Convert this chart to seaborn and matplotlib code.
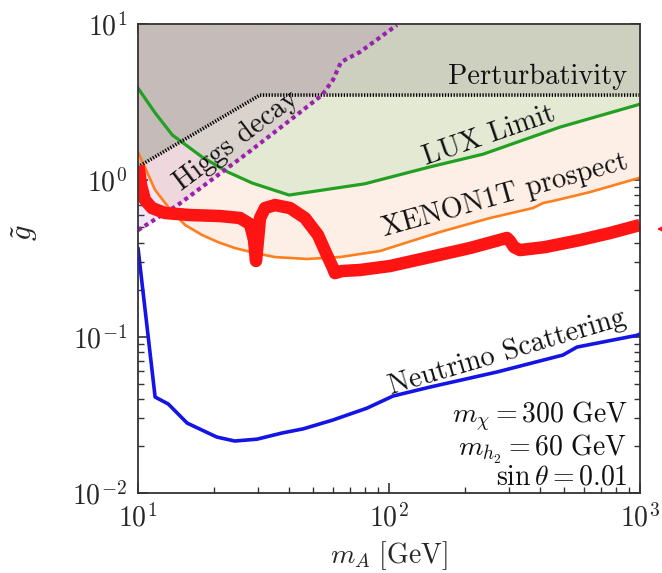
import numpy as np
import matplotlib
matplotlib.use("Agg")
import matplotlib.pyplot as plt
import seaborn as sns

# ---------------- data ----------------
lux_x = [10, 11.7, 13.7, 18.0, 22.8, 28.5, 40, 80, 146, 237, 480, 1000]
lux_y = [3.89, 2.70, 1.95, 1.41, 1.13, 0.961, 0.805, 0.95, 1.22, 1.47, 2.19, 3.07]

xenon_x = [10, 11.7, 13.2, 15.4, 18.0, 20.8, 24.3, 29.2, 35.1, 47.1, 63.8, 92.0,
           159.5, 252.5, 374.7, 411, 467, 632, 1000]
xenon_y = [1.52, 0.867, 0.675, 0.518, 0.447, 0.403, 0.369, 0.343, 0.323, 0.314, 0.323, 0.353,
           0.467, 0.574, 0.665, 0.716, 0.748, 0.841, 1.04]

pert_x = [10, 30.6, 1000]
pert_y = [1.22, 3.51, 3.51]

higgs_x = [10, 14.4, 27.4, 40.4, 54.1, 59.8, 64.4, 76.6, 107.6]
higgs_y = [0.48, 0.695, 1.50, 2.43, 3.51, 4.38, 5.71, 6.62, 9.85]

nu_x = [10, 11.7, 13.2, 15.7, 20.6, 24.3, 29.8, 37.5, 45.4, 59.8, 81.7, 103.7,
        145.6, 269, 493, 561, 973, 1000]
nu_y = [0.369, 0.0411, 0.0371, 0.0280, 0.0228, 0.0215, 0.0221, 0.0242, 0.0257, 0.0293,
        0.0349, 0.0417, 0.0476, 0.0594, 0.0763, 0.0858, 0.102, 0.104]

relic_x = [10.05, 10.28, 10.66, 11.37, 12.81, 16.11, 21.22, 25.49, 27.94, 28.99, 29.52,
           30.07, 30.63, 32.06, 35.14, 40.33, 46.28, 52.13, 56.1, 59.3, 60.9, 64.98,
           76.6, 100.9, 145.6, 210.2, 295.1, 303.4, 314.8, 332.6, 418.3, 576.8, 759, 1000]
relic_y = [1.24, 0.933, 0.748, 0.665, 0.618, 0.600, 0.591, 0.574, 0.525, 0.415, 0.305,
           0.415, 0.574, 0.665, 0.695, 0.665, 0.574, 0.447, 0.343, 0.283, 0.255, 0.263,
           0.267, 0.283, 0.323, 0.369, 0.428, 0.409, 0.374, 0.358, 0.374, 0.415, 0.460, 0.518]

x_ticks = [10, 100, 1000]
y_ticks = [0.01, 0.1, 1, 10]

param_lines = [r"$m_\chi = 300\ \mathrm{GeV}$",
               r"$m_{h_2} = 60\ \mathrm{GeV}$",
               r"$\sin\theta = 0.01$"]

# ---------------- style ----------------
sns.set_style("ticks")
plt.rcParams["font.family"] = ["cmr10", "DejaVu Serif"]
plt.rcParams["mathtext.fontset"] = "cm"
plt.rcParams["axes.formatter.use_mathtext"] = True
plt.rcParams["axes.unicode_minus"] = False

fig = plt.figure(figsize=(6.62, 5.73), dpi=100)
fig.patch.set_facecolor("white")
ax = fig.add_axes([138 / 662, 1 - 493 / 573, 502 / 662, 469 / 573])
ax.set_xscale("log")
ax.set_yscale("log")
ax.set_xlim(10, 1000)
ax.set_ylim(0.01, 10)

TOP = 10
# fills
ax.fill_between(xenon_x, xenon_y, TOP, color="#fdefe6", lw=0, zorder=1)
ax.fill_between(lux_x, lux_y, TOP, color="#e4e9d4", lw=0, zorder=2)
ax.fill_between(pert_x, pert_y, TOP, color="#cdd0bf", lw=0, zorder=3)
ax.fill_between(higgs_x, higgs_y, TOP, color=(0.55, 0.20, 0.62), alpha=0.12, lw=0, zorder=4)

# lines
sns.lineplot(x=lux_x, y=lux_y, ax=ax, color="#22a022", lw=2.3, zorder=6, sort=False)
sns.lineplot(x=xenon_x, y=xenon_y, ax=ax, color="#ff7f1e", lw=1.9, zorder=6, sort=False)
sns.lineplot(x=pert_x, y=pert_y, ax=ax, color="black", lw=2.6, zorder=6, sort=False,
             linestyle=(0, (0.35, 0.45)))
sns.lineplot(x=higgs_x, y=higgs_y, ax=ax, color="#9a22aa", lw=3.0, zorder=7, sort=False,
             linestyle=(0, (1.0, 0.9)))
sns.lineplot(x=nu_x, y=nu_y, ax=ax, color="#1414e6", lw=2.6, zorder=6, sort=False)
sns.lineplot(x=relic_x, y=relic_y, ax=ax, color="#ff1414", lw=9, zorder=8, sort=False,
             solid_joinstyle="round", solid_capstyle="butt")

# axes styling
for s in ax.spines.values():
    s.set_linewidth(1.3)
    s.set_color("#333333")
    s.set_zorder(10)
ax.tick_params(which="both", direction="in", top=True, right=True, color="#333333")
ax.tick_params(which="major", length=7, width=1.2, labelsize=20, pad=8)
ax.tick_params(which="minor", length=4, width=1.0)
ax.set_xticks(x_ticks)
ax.set_yticks(y_ticks)

ax.set_xlabel(r"$m_A\ [\mathrm{GeV}]$", fontsize=20)
ax.xaxis.set_label_coords(0.5, -0.098)
ax.set_ylabel(r"$\tilde{g}$", fontsize=22)
ax.yaxis.set_label_coords(-0.195, 0.556)

# annotations
tkw = dict(transform=ax.transAxes, zorder=12, color="#111111")
FS = 20.5
ax.text(0.975, 0.888, "Perturbativity", fontsize=FS, ha="right", va="center", **tkw)
ax.text(0.70, 0.762, "LUX Limit", fontsize=FS, ha="center", va="center", rotation=19, **tkw)
ax.text(0.731, 0.635, "XENON1T prospect", fontsize=FS, ha="center", va="center", rotation=15.5, **tkw)
ax.text(0.197, 0.752, "Higgs decay", fontsize=FS, ha="center", va="center", rotation=37, **tkw)
ax.text(0.735, 0.300, "Neutrino Scattering", fontsize=FS, ha="center", va="center", rotation=16.5, **tkw)
ax.text(0.975, 0.102, "\n".join(param_lines), fontsize=20, ha="right", va="center",
        multialignment="right", linespacing=0.95, **tkw)

# small red arrow fragment at the right edge
ax.annotate("", xy=(654, 573 - 229), xycoords="figure pixels",
            xytext=(700, 573 - 229), textcoords="figure pixels",
            arrowprops=dict(arrowstyle="-|>", color="#ff1414", lw=1.5, mutation_scale=12),
            annotation_clip=False)

fig.savefig("out.png", dpi=100)
